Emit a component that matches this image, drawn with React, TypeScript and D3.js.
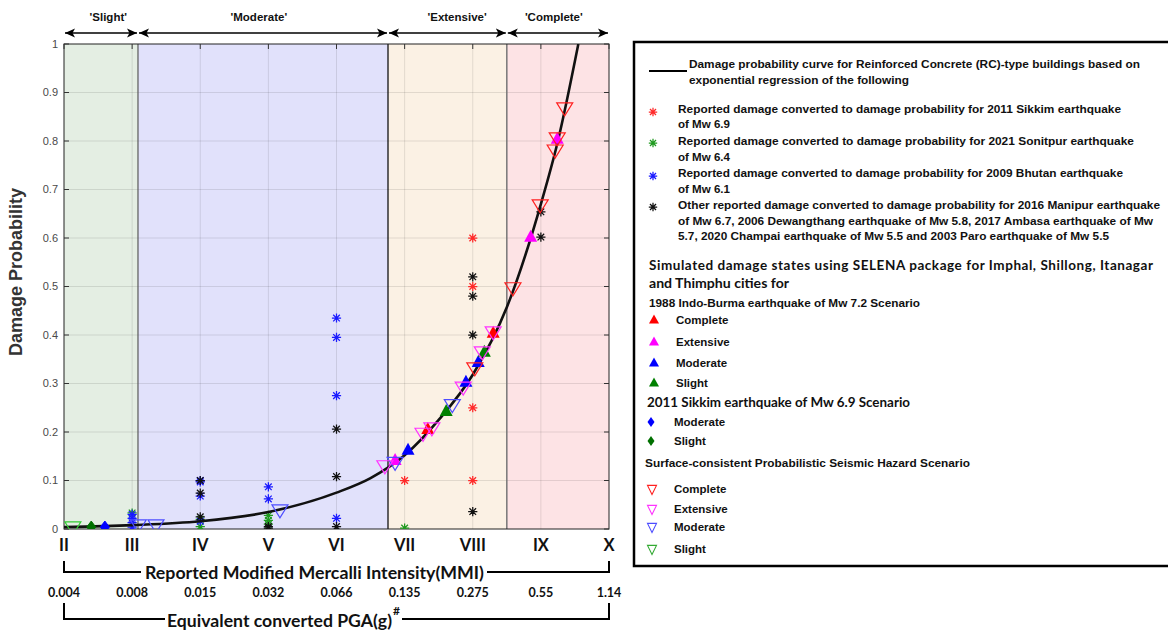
import * as d3 from "d3";

// ---- data ----
const mmiLabels = ["II", "III", "IV", "V", "VI", "VII", "VIII", "IX", "X"];
const pgaLabels = ["0.004", "0.008", "0.015", "0.032", "0.066", "0.135", "0.275", "0.55", "1.14"];
const yTicks = [0, 0.1, 0.2, 0.3, 0.4, 0.5, 0.6, 0.7, 0.8, 0.9, 1];

// damage-state zones along the MMI axis
const zoneNames = ["'Slight'", "'Moderate'", "'Extensive'", "'Complete'"];
const zoneEdges = [2, 3.086, 6.756, 8.5, 10];
const zoneFills = ["#e4eee3", "#e1e1fb", "#fbf1e4", "#fde3e5"];

// regression curve (MMI, probability)
const curveMMI = [2, 3, 4, 5, 6, 6.5, 7, 7.5, 8, 8.5, 9, 9.25, 9.55];
const curveProb = [0.004, 0.008, 0.016, 0.035, 0.075, 0.105, 0.152, 0.225, 0.318, 0.457, 0.67, 0.8, 1.0];

// reported damage (asterisks)
const sikkimReported: [number, number][] = [[7, 0.1], [8, 0.6], [8, 0.5], [8, 0.25], [8, 0.1]];
const sonitpurReported: [number, number][] = [[3, 0.033], [4, 0.02], [4, 0.005], [5, 0.028], [5, 0.018], [5, 0.01], [7, 0.002]];
const bhutanReported: [number, number][] = [
  [3, 0.03], [3, 0.022], [3, 0.013], [3, 0.004],
  [4, 0.1], [4, 0.097], [4, 0.068], [4, 0.016],
  [5, 0.087], [5, 0.062],
  [6, 0.435], [6, 0.395], [6, 0.275], [6, 0.022],
];
const otherReported: [number, number][] = [
  [4, 0.1], [4, 0.074], [4, 0.025],
  [5, 0.005], [5, 0.002],
  [6, 0.206], [6, 0.108], [6, 0.005],
  [8, 0.52], [8, 0.48], [8, 0.4], [8, 0.036],
  [9, 0.654], [9, 0.602],
];

// 1988 Indo-Burma scenario (filled up-triangles)
const ibComplete: [number, number][] = [[7.34, 0.206], [8.3, 0.404]];
const ibExtensive: [number, number][] = [[6.86, 0.142], [8.85, 0.602], [9.24, 0.804]];
const ibModerate: [number, number][] = [[7.05, 0.163], [7.9, 0.303], [8.08, 0.344]];
const ibSlight: [number, number][] = [[7.61, 0.243], [8.17, 0.365]];

// 2011 Sikkim scenario (diamonds)
const skModerate: [number, number][] = [[2.6, 0.004]];
const skSlight: [number, number][] = [[2.4, 0.004]];

// PSHA scenario (open down-triangles)
const psComplete: [number, number][] = [[8.03, 0.332], [8.59, 0.497], [8.99, 0.668], [9.21, 0.781], [9.24, 0.806], [9.35, 0.868]];
const psExtensive: [number, number][] = [[6.71, 0.13], [7.27, 0.197], [7.4, 0.208], [7.86, 0.292], [8.14, 0.365], [8.3, 0.406]];
const psModerate: [number, number][] = [[3.09, 0.008], [3.35, 0.008], [5.17, 0.039], [6.86, 0.137], [7.7, 0.256]];
const psSlight: [number, number][] = [[2.13, 0.004]];

// ---- layout ----
const W = 1168;
const H = 635;
const plot = { left: 64, right: 609, top: 44, bottom: 529 };

const ARIAL = "'Liberation Sans', Arial, sans-serif";
const CAL = "Lato, 'Open Sans', sans-serif";

const starPath = (r: number) => {
  const d = r * 0.72;
  return `M${-r},0H${r}M0,${-r}V${r}M${-d},${-d}L${d},${d}M${-d},${d}L${d},${-d}`;
};
const upTri = (w: number, h: number) => `M0,${-h * 0.6}L${w / 2},${h * 0.4}L${-w / 2},${h * 0.4}Z`;
const downTri = (w: number, h: number) => `M${-w / 2},${-h * 0.4}L${w / 2},${-h * 0.4}L0,${h * 0.6}Z`;
const diamond = (w: number, h: number) => `M0,${-h / 2}L${w / 2},0L0,${h / 2}L${-w / 2},0Z`;

const Star = ({ x, y, c, r = 4 }: any) => (
  <path d={starPath(r)} transform={`translate(${x},${y})`} stroke={c} strokeWidth={1.25} fill="none" />
);

const T = ({ x, y, w, size = 11, font = ARIAL, weight = "bold", anchor = "start", fill = "#111", adjust = "spacingAndGlyphs", children }: any) => (
  <text
    x={x}
    y={y}
    dy="0.35em"
    fontFamily={font}
    fontSize={size}
    fontWeight={weight}
    textAnchor={anchor}
    fill={fill}
    {...(w ? { textLength: w, lengthAdjust: adjust } : {})}
  >
    {children}
  </text>
);

export default function App() {
  const x = d3.scaleLinear().domain([2, 10]).range([plot.left, plot.right]);
  const y = d3.scaleLinear().domain([0, 1]).range([plot.bottom, plot.top]);

  const curvePts: [number, number][] = curveMMI.map((m, i) => [m, curveProb[i]]);
  const line = d3
    .line<[number, number]>()
    .x((d) => x(d[0]))
    .y((d) => y(d[1]))
    .curve(d3.curveMonotoneX);

  const mmiVals = d3.range(2, 11);
  const zoneLabelAt = [2.65, 4.86, 7.77, 9.19];

  const stars = [
    { data: sikkimReported, c: "#ff2a2a" },
    { data: sonitpurReported, c: "#1f9a1f" },
    { data: bhutanReported, c: "#1a1aff" },
    { data: otherReported, c: "#111" },
  ];
  const openTris = [
    { data: psSlight, c: "#33cc33" },
    { data: psModerate, c: "#4d4dff" },
    { data: psExtensive, c: "#ff33ff" },
    { data: psComplete, c: "#ff2020" },
  ];
  const filledTris = [
    { data: ibExtensive, c: "#ff00ff" },
    { data: ibModerate, c: "#0000ff" },
    { data: ibSlight, c: "#008000" },
    { data: ibComplete, c: "#ff0000" },
  ];
  const diamonds = [
    { data: skSlight, c: "#007000" },
    { data: skModerate, c: "#0000ff" },
  ];

  return (
    <svg width={W} height={H} style={{ position: "absolute", left: 0, top: 0, background: "#fff" }}>
      <defs>
        <marker id="ah" viewBox="0 0 10 10" refX="10" refY="5" markerWidth="10" markerHeight="10" markerUnits="userSpaceOnUse" orient="auto-start-reverse">
          <path d="M0,0.5L10,5L0,9.5L2.5,5Z" fill="#000" />
        </marker>
        <clipPath id="pc">
          <rect x={plot.left} y={plot.top} width={plot.right - plot.left} height={plot.bottom - plot.top} />
        </clipPath>
      </defs>

      {/* zone fills */}
      {zoneFills.map((f, i) => (
        <rect key={i} x={x(zoneEdges[i])} y={plot.top} width={x(zoneEdges[i + 1]) - x(zoneEdges[i])} height={plot.bottom - plot.top} fill={f} />
      ))}

      {/* grid */}
      {mmiVals.slice(1, -1).map((m) => (
        <line key={"gx" + m} x1={x(m)} x2={x(m)} y1={plot.top} y2={plot.bottom} stroke="#000" strokeOpacity={0.1} />
      ))}
      {yTicks.slice(1, -1).map((v) => (
        <line key={"gy" + v} x1={plot.left} x2={plot.right} y1={y(v)} y2={y(v)} stroke="#000" strokeOpacity={0.1} />
      ))}

      {/* zone boundaries */}
      <line x1={x(zoneEdges[1])} x2={x(zoneEdges[1])} y1={plot.top} y2={plot.bottom} stroke="#5a5a5a" strokeWidth={1.2} />
      <line x1={x(zoneEdges[2])} x2={x(zoneEdges[2])} y1={plot.top} y2={plot.bottom} stroke="#000" strokeWidth={1.2} />
      <line x1={x(zoneEdges[3])} x2={x(zoneEdges[3])} y1={plot.top} y2={plot.bottom} stroke="#777" strokeWidth={1.5} />

      {/* axes box and ticks */}
      <rect x={plot.left} y={plot.top} width={plot.right - plot.left} height={plot.bottom - plot.top} fill="none" stroke="#222" strokeWidth={1} />
      {yTicks.map((v) => (
        <g key={"t" + v}>
          <line x1={plot.left} x2={plot.left + 5} y1={y(v)} y2={y(v)} stroke="#333" />
          <line x1={plot.right - 5} x2={plot.right} y1={y(v)} y2={y(v)} stroke="#333" />
          <T x={58} y={y(v)} anchor="end" weight="normal" size={11} fill="#4a4a4a">
            {String(v)}
          </T>
        </g>
      ))}
      {mmiVals.map((m) => (
        <line key={"tt" + m} x1={x(m)} x2={x(m)} y1={plot.top} y2={plot.top + 5} stroke="#333" />
      ))}

      {/* data */}
      <g clipPath="url(#pc)">
        {stars.map((s, i) =>
          s.data.map((d, j) => <Star key={`s${i}-${j}`} x={x(d[0])} y={y(d[1])} c={s.c} r={4.6} />)
        )}
        <path d={line(curvePts) || ""} fill="none" stroke="#111" strokeWidth={2.6} />
        {diamonds.map((s, i) =>
          s.data.map((d, j) => <path key={`d${i}-${j}`} d={diamond(9, 12)} transform={`translate(${x(d[0])},${y(d[1])})`} fill={s.c} stroke={s.c} />)
        )}
        {filledTris.map((s, i) =>
          s.data.map((d, j) => <path key={`f${i}-${j}`} d={upTri(13, 12)} transform={`translate(${x(d[0])},${y(d[1])})`} fill={s.c} />)
        )}
        {openTris.map((s, i) =>
          s.data.map((d, j) => <path key={`o${i}-${j}`} d={downTri(16, 13)} transform={`translate(${x(d[0])},${y(d[1])})`} fill="none" stroke={s.c} strokeWidth={1.2} />)
        )}
      </g>

      {/* zone arrows on top */}
      {zoneNames.map((n, i) => (
        <g key={n}>
          <line
            x1={x(zoneEdges[i]) + 1}
            x2={x(zoneEdges[i + 1]) - 1}
            y1={33}
            y2={33}
            stroke="#000"
            strokeWidth={1.4}
            markerStart="url(#ah)"
            markerEnd="url(#ah)"
          />
          <T x={x(zoneLabelAt[i])} y={17} anchor="middle" size={11.5} fill="#111">
            {n}
          </T>
        </g>
      ))}

      {/* y label */}
      <text transform="translate(22,272) rotate(-90)" textAnchor="middle" fontFamily={ARIAL} fontWeight="bold" fontSize={18} fill="#333">
        Damage Probability
      </text>

      {/* MMI labels */}
      {mmiLabels.map((l, i) => (
        <T key={l} x={x(mmiVals[i])} y={545} anchor="middle" font={CAL} size={16.5} fill="#111">
          {l}
        </T>
      ))}
      {/* MMI bracket */}
      <path d={`M${x(2)},561V572H141M487,572H${x(10)}V561`} fill="none" stroke="#000" strokeWidth={2} />
      <T x={145} y={573} w={339} font={CAL} size={16.5} fill="#111">
        Reported Modified Mercalli Intensity(MMI)
      </T>

      {/* PGA labels */}
      {pgaLabels.map((l, i) => (
        <T key={l} x={x(mmiVals[i])} y={593} anchor="middle" font={CAL} size={12.5} fill="#111">
          {l}
        </T>
      ))}
      <path d={`M${x(2)},603V619H165M402,619H${x(10)}V603`} fill="none" stroke="#000" strokeWidth={2} />
      <T x={167} y={621} w={225} font={CAL} size={16.5} fill="#111">
        Equivalent converted PGA(g)
      </T>
      <T x={393} y={611} font={CAL} size={12} fill="#111">
        #
      </T>

      {/* legend */}
      <rect x={634} y={42} width={560} height={524} fill="#fff" stroke="#000" strokeWidth={2.5} />
      <line x1={649} x2={687} y1={71} y2={71} stroke="#000" strokeWidth={2} />
      <T x={689} y={64} w={451}>Damage probability curve for Reinforced Concrete (RC)-type buildings based on</T>
      <T x={689} y={80} w={220}>exponential regression of the following</T>

      <Star x={653} y={112} c="#ff2a2a" r={4.2} />
      <T x={678} y={109} w={443}>Reported damage converted to damage probability for 2011 Sikkim earthquake</T>
      <T x={678} y={124} w={52}>of Mw 6.9</T>
      <Star x={653} y={143} c="#1f9a1f" r={4.2} />
      <T x={678} y={141} w={456}>Reported damage converted to damage probability for  2021 Sonitpur earthquake</T>
      <T x={678} y={157} w={52}>of Mw 6.4</T>
      <Star x={653} y={176} c="#1a1aff" r={4.2} />
      <T x={678} y={173} w={445}>Reported damage converted to damage probability for 2009 Bhutan earthquake</T>
      <T x={678} y={189} w={52}>of Mw 6.1</T>
      <Star x={653} y={207} c="#111" r={4.2} />
      <T x={678} y={205} w={482}>Other reported damage converted to damage probability for 2016 Manipur earthquake</T>
      <T x={678} y={221} w={475}>of Mw 6.7, 2006 Dewangthang earthquake of Mw 5.8, 2017 Ambasa earthquake of Mw</T>
      <T x={678} y={236} w={431}>5.7, 2020 Champai earthquake of Mw 5.5 and 2003 Paro earthquake of Mw 5.5</T>

      <T x={649} y={265} w={504} font={CAL} size={13.5} adjust="spacing">
        Simulated damage states using SELENA package for Imphal, Shillong, Itanagar
      </T>
      <T x={649} y={283} w={140} font={CAL} size={13.5}>
        and Thimphu cities for
      </T>
      <T x={649} y={303} w={271}>1988 Indo-Burma earthquake of Mw 7.2 Scenario</T>
      {[
        { c: "#ff0000", l: "Complete", yy: 320 },
        { c: "#ff00ff", l: "Extensive", yy: 342 },
        { c: "#0000ff", l: "Moderate", yy: 363 },
        { c: "#008000", l: "Slight", yy: 383 },
      ].map((e) => (
        <g key={"lt" + e.l}>
          <path d={upTri(10, 9)} transform={`translate(654,${e.yy})`} fill={e.c} />
          <T x={676} y={e.yy} size={11.5}>
            {e.l}
          </T>
        </g>
      ))}
      <T x={647} y={402} w={263} font={CAL} size={13.5}>
        2011 Sikkim earthquake of Mw 6.9 Scenario
      </T>
      {[
        { c: "#0000ff", l: "Moderate", yy: 422 },
        { c: "#007000", l: "Slight", yy: 441 },
      ].map((e) => (
        <g key={"ld" + e.l}>
          <path d={diamond(7, 10)} transform={`translate(651,${e.yy})`} fill={e.c} />
          <T x={674} y={e.yy} size={11.5}>
            {e.l}
          </T>
        </g>
      ))}
      <T x={645} y={463} w={325}>Surface-consistent Probabilistic Seismic Hazard Scenario</T>
      {[
        { c: "#ff2020", l: "Complete", yy: 489 },
        { c: "#ff33ff", l: "Extensive", yy: 509 },
        { c: "#4d4dff", l: "Moderate", yy: 527 },
        { c: "#33aa33", l: "Slight", yy: 549 },
      ].map((e) => (
        <g key={"lo" + e.l}>
          <path d={downTri(9, 9)} transform={`translate(652,${e.yy})`} fill="none" stroke={e.c} strokeWidth={1.1} />
          <T x={674} y={e.yy} size={11.5}>
            {e.l}
          </T>
        </g>
      ))}
    </svg>
  );
}
